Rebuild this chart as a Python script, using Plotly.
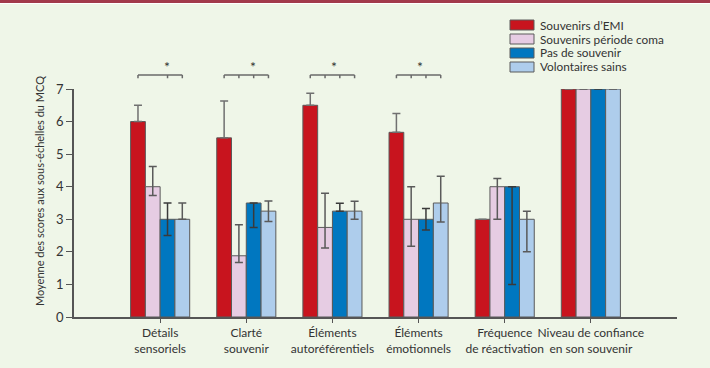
import plotly.graph_objects as go

categories = ["Détails<br>sensoriels", "Clarté<br>souvenir", "Éléments<br>autoréférentiels",
              "Éléments<br>émotionnels", "Fréquence<br>de réactivation", "Niveau de confiance<br>en son souvenir"]
series_names = ["Souvenirs d’EMI", "Souvenirs période coma", "Pas de souvenir", "Volontaires sains"]
series_colors = ["#c8141e", "#e6cce3", "#0077c0", "#aecdec"]
error_colors = ["#707070", "#5a5a5a", "#3a3a3a", "#5a5a5a"]
y_title = "Moyenne des scores aux sous-échelles du MCQ"

emi_values = [6.0, 5.5, 6.5, 5.67, 3.0, 7.0]
emi_err_plus = [0.5, 1.13, 0.37, 0.58, 0, 0]
emi_err_minus = [0, 0, 0, 0, 0, 0]

coma_values = [4.0, 1.88, 2.75, 3.0, 4.0, 7.0]
coma_err_plus = [0.62, 0.95, 1.05, 1.0, 0.25, 0]
coma_err_minus = [0.27, 0.21, 0.63, 0.83, 1.0, 0]

pas_values = [3.0, 3.5, 3.25, 3.0, 4.0, 7.0]
pas_err_plus = [0.5, 0, 0.24, 0.33, 0, 0]
pas_err_minus = [0.5, 0.75, 0, 0.33, 3.0, 0]

vol_values = [3.0, 3.25, 3.25, 3.5, 3.0, 7.0]
vol_err_plus = [0.5, 0.31, 0.3, 0.82, 0.25, 0]
vol_err_minus = [0, 0.32, 0.25, 0.58, 1.0, 0]

significant_groups = [0, 1, 2, 3]
bracket_inner_ticks = [[2], [1, 2], [1, 2], [1, 2]]

values = [emi_values, coma_values, pas_values, vol_values]
err_plus = [emi_err_plus, coma_err_plus, pas_err_plus, vol_err_plus]
err_minus = [emi_err_minus, coma_err_minus, pas_err_minus, vol_err_minus]

FONT = "Lato, Liberation Sans, Arial, sans-serif"

x_pos = list(range(len(categories)))
XMIN, XMAX = -1, len(categories)
YMAX = 7
bargap = 0.314
bar_w = (1 - bargap) / 4

fig = go.Figure()
for i in range(4):
    fig.add_trace(go.Bar(
        x=x_pos, y=values[i], name=series_names[i],
        marker=dict(color=series_colors[i], line=dict(color="#5a5a5a", width=1)),
        error_y=dict(type="data", symmetric=False, array=err_plus[i], arrayminus=err_minus[i],
                     color=error_colors[i], thickness=1.5, width=4),
        showlegend=False,
    ))

def px_x(v):
    return (v - XMIN) / (XMAX - XMIN)

W, H = 710, 368
ml, mr, mt, mb = 74, 33, 89, 51
pw, ph = W - ml - mr, H - mt - mb

shapes = []
annotations = []
# significance brackets
br_y, br_tick, star_y = 7.43, 7.33, 7.68
for g, inner in zip(significant_groups, bracket_inner_ticks):
    centers = [g + (k - 1.5) * bar_w for k in range(4)]
    x0, x1 = px_x(centers[0]), px_x(centers[3])
    line = dict(color="#6a6a6a", width=1.5)
    shapes.append(dict(type="line", xref="paper", yref="paper", x0=x0, x1=x1,
                       y0=br_y / YMAX, y1=br_y / YMAX, line=line))
    for xx in [centers[0], centers[3]] + [centers[k] for k in inner]:
        shapes.append(dict(type="line", xref="paper", yref="paper", x0=px_x(xx), x1=px_x(xx),
                           y0=br_y / YMAX, y1=br_tick / YMAX, line=line))
    annotations.append(dict(text="*", xref="paper", yref="paper", x=px_x(g + 0.02), y=star_y / YMAX,
                            yanchor="middle", showarrow=False, font=dict(size=14, color="#333")))

# custom legend
leg_x0, leg_top, leg_step = 510, 25, 14
for i, (nm, col) in enumerate(zip(series_names, series_colors)):
    cy = leg_top + i * leg_step
    fx0 = (leg_x0 - ml) / pw
    fx1 = (leg_x0 + 24 - ml) / pw
    fy0 = (H - mb - (cy + 5)) / ph
    fy1 = (H - mb - (cy - 5)) / ph
    shapes.append(dict(type="rect", xref="paper", yref="paper", x0=fx0, x1=fx1, y0=fy0, y1=fy1,
                       fillcolor=col, line=dict(color="#5a5a5a", width=1)))
    annotations.append(dict(text=nm, xref="paper", yref="paper", x=(leg_x0 + 29 - ml) / pw,
                            y=(H - mb - cy) / ph, xanchor="left", yanchor="middle", showarrow=False,
                            borderpad=0, font=dict(size=11.8, color="#333")))

# y axis title
annotations.append(dict(text=y_title, xref="paper", yref="paper", x=(39 - ml) / pw,
                        y=(H - mb - 191) / ph, textangle=-90, xanchor="center", yanchor="middle",
                        showarrow=False, font=dict(size=11, color="#333")))

# top border
shapes.append(dict(type="rect", xref="paper", yref="paper", x0=-ml / pw, x1=(pw + mr) / pw,
                   y0=(ph + mt - 3) / ph, y1=(ph + mt) / ph, fillcolor="#a23a4b", line=dict(width=0)))
shapes.append(dict(type="rect", xref="paper", yref="paper", x0=-ml / pw, x1=(pw + mr) / pw,
                   y0=(ph + mt - 4) / ph, y1=(ph + mt - 3) / ph, fillcolor="#ffffff", line=dict(width=0)))

fig.update_layout(
    width=W, height=H,
    margin=dict(l=ml, r=mr, t=mt, b=mb, pad=0, autoexpand=False),
    paper_bgcolor="#eff6e8", plot_bgcolor="#eff6e8",
    barmode="group", bargap=bargap, bargroupgap=0,
    font=dict(family=FONT, size=12, color="#333"),
    shapes=shapes, annotations=annotations,
    xaxis=dict(range=[XMIN, XMAX], tickmode="array", tickvals=x_pos, ticktext=categories,
               tickangle=0, automargin=False,
               showline=True, linecolor="#555", linewidth=1.5, ticks="outside", ticklen=4,
               tickcolor="#555", showgrid=False, zeroline=False, tickfont=dict(size=12)),
    yaxis=dict(range=[0, YMAX], dtick=1, showline=True, linecolor="#555", linewidth=1.5,
               automargin=False,
               ticks="outside", ticklen=6, tickcolor="#555", showgrid=False, zeroline=False,
               tickfont=dict(size=13)),
)

fig.write_html("out.html", config={"displayModeBar": False},
               post_script="document.body.style.margin='0';document.body.style.overflow='hidden';")
